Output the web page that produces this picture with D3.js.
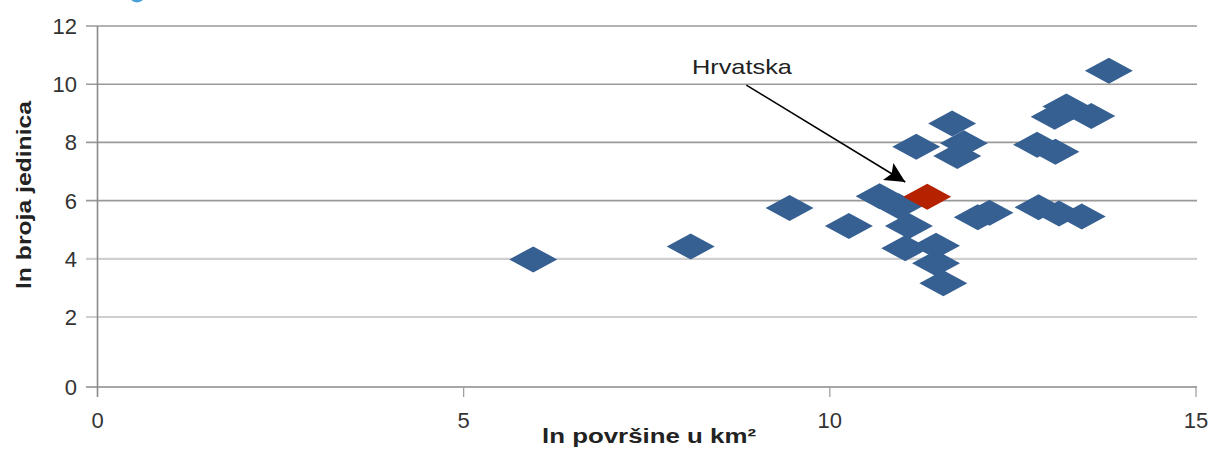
<!DOCTYPE html>
<html><head><meta charset="utf-8">
<script src="https://cdn.jsdelivr.net/npm/d3@7"></script>
<style>body{margin:0;background:#fff;} svg{display:block;font-family:"Liberation Sans",Arial,sans-serif;}</style>
</head><body>
<svg id="c" width="1213" height="451"></svg>
<script>
const xTicks = [0, 5, 10, 15];
const yTicks = [0, 2, 4, 6, 8, 10, 12];
const blueX = [5.95, 8.1, 9.45, 10.26, 10.68, 10.94, 11.08, 11.03, 11.45, 11.45, 11.55, 11.67, 11.18, 11.83, 11.74, 12.02, 12.18, 12.85, 13.13, 13.44, 12.83, 13.08, 13.07, 13.23, 13.57, 13.81];
const blueY = [3.98, 4.42, 5.75, 5.13, 6.15, 5.81, 5.13, 4.36, 4.45, 3.85, 3.16, 8.65, 7.85, 7.97, 7.53, 5.43, 5.58, 5.77, 5.56, 5.45, 7.92, 7.68, 8.88, 9.23, 8.91, 10.46];
const redX = [11.33];
const redY = [6.13];
const labelText = "Hrvatska";
const labelPos = [8.80, 10.35];
const arrowFrom = [8.86, 9.97];
const arrowTo = [11.03, 6.64];
const xTitle = "ln površine u km²";
const yTitle = "ln broja jedinica";

const svg = d3.select("#c");
const x = d3.scaleLinear().domain([0, 15]).range([97.5, 1196]);
const y = d3.scaleLinear().domain([0, 2, 12]).range([387, 317, 26]);

// gridlines
const grid = svg.append("g");
yTicks.forEach(t => {
  const light = (t === 2 || t === 4);
  grid.append("line")
    .attr("x1", 86).attr("x2", 1197)
    .attr("y1", y(t)).attr("y2", y(t))
    .attr("stroke", t === 0 ? "#8a8a8a" : (light ? "#cfcfcf" : "#9a9a9a"))
    .attr("stroke-width", light ? 2.2 : 1.6);
});
// vertical axis line
svg.append("line").attr("x1", x(0)).attr("x2", x(0)).attr("y1", y(12)).attr("y2", y(0) + 10)
  .attr("stroke", "#8a8a8a").attr("stroke-width", 1.6);
// x ticks
xTicks.slice(1).forEach(t => {
  svg.append("line").attr("x1", x(t)).attr("x2", x(t)).attr("y1", y(0)).attr("y2", y(0) + 10)
    .attr("stroke", "#9a9a9a").attr("stroke-width", 1.2);
});
// tick labels
svg.append("g").selectAll("text").data(yTicks).join("text")
  .attr("x", 77).attr("y", d => y(d) + 8).attr("text-anchor", "end")
  .attr("font-size", 22).attr("fill", "#333").text(d => d);
svg.append("g").selectAll("text").data(xTicks).join("text")
  .attr("x", d => x(d)).attr("y", 428).attr("text-anchor", "middle")
  .attr("font-size", 22).attr("fill", "#333").text(d => d);

// titles
svg.append("text").attr("x", 649).attr("y", 443).attr("text-anchor", "middle")
  .attr("font-size", 20).attr("font-weight", "bold").attr("fill", "#222")
  .attr("textLength", 214).attr("lengthAdjust", "spacingAndGlyphs").text(xTitle);
svg.append("text").attr("transform", "translate(31,195) rotate(-90)").attr("text-anchor", "middle")
  .attr("font-size", 20).attr("font-weight", "bold").attr("fill", "#222")
  .attr("textLength", 188).attr("lengthAdjust", "spacingAndGlyphs").text(yTitle);

// partial legend marker at top
svg.append("circle").attr("cx", 137).attr("cy", -6).attr("r", 8.5).attr("fill", "#4a9fd6");

// diamonds
const hw = 24, hh = 13;
const diamond = d3.line()([[0, -hh], [hw, 0], [0, hh], [-hw, 0]]) + "Z";
const blue = blueX.map((v, i) => [v, blueY[i]]);
const red = redX.map((v, i) => [v, redY[i]]);
svg.append("g").selectAll("path").data(blue).join("path")
  .attr("d", diamond).attr("transform", d => `translate(${x(d[0])},${y(d[1])})`)
  .attr("fill", "#376092");
svg.append("g").selectAll("path").data(red).join("path")
  .attr("d", diamond).attr("transform", d => `translate(${x(d[0])},${y(d[1])})`)
  .attr("fill", "#b52200");

// annotation
svg.append("defs").append("marker").attr("id", "ah").attr("viewBox", "0 0 10 10")
  .attr("refX", 10).attr("refY", 5).attr("markerWidth", 24).attr("markerHeight", 20)
  .attr("markerUnits", "userSpaceOnUse").attr("orient", "auto")
  .append("path").attr("d", "M0,0 L10,5 L0,10 L2,5 Z").attr("fill", "#000");
svg.append("line")
  .attr("x1", x(arrowFrom[0])).attr("y1", y(arrowFrom[1]))
  .attr("x2", x(arrowTo[0])).attr("y2", y(arrowTo[1]))
  .attr("stroke", "#000").attr("stroke-width", 1.6).attr("marker-end", "url(#ah)");
svg.append("text").attr("x", x(labelPos[0])).attr("y", y(labelPos[1])).attr("text-anchor", "middle")
  .attr("font-size", 21).attr("fill", "#222")
  .attr("textLength", 100).attr("lengthAdjust", "spacingAndGlyphs").text(labelText);
</script>
</body></html>
